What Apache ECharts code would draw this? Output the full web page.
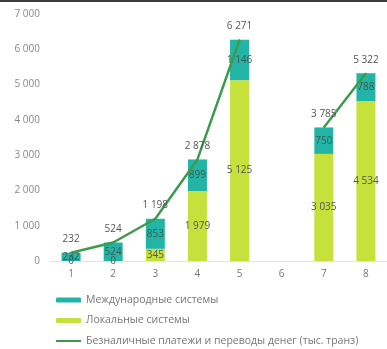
<!DOCTYPE html>
<html>
<head>
<meta charset="utf-8">
<script src="https://cdn.jsdelivr.net/npm/echarts@6/dist/echarts.min.js"></script>
<style>html,body{margin:0;padding:0;background:#fff;}#c{width:387px;height:349px;}</style>
</head>
<body>
<div id="c"></div>
<script>
var categories = ['1','2','3','4','5','6','7','8'];
var internationalSys = [232, 524, 853, 899, 1146, null, 750, 788];
var localSys = [0, 0, 345, 1979, 5125, null, 3035, 4534];
var cashlessTotal = [232, 524, 1198, 2878, 6271, null, 3785, 5322];
var seriesNames = ['Международные системы', 'Локальные системы', 'Безналичные платежи и переводы денег (тыс. транз)'];

function fmt(v) {
  return String(v).replace(/\B(?=(\d{3})+(?!\d))/g, ' ');
}

var chart = echarts.init(document.getElementById('c'), null, {renderer: 'canvas'});
chart.setOption({
  animation: false,
  backgroundColor: '#fff',
  graphic: [{
    type: 'rect', left: 0, top: 0, shape: {width: 387, height: 2},
    style: {fill: '#3d3d3d'}
  }],
  grid: {left: 50, right: -4, top: 14, bottom: 88, containLabel: false},
  legend: {
    orient: 'vertical', left: 55, top: 294.5, padding: 0, height: 60,
    itemWidth: 25, itemHeight: 5, itemGap: 9.5,
    textStyle: {fontSize: 10.5, color: '#777', fontFamily: 'Open Sans', lineHeight: 11},
    data: [
      {name: seriesNames[0]},
      {name: seriesNames[1]},
      {name: seriesNames[2], itemStyle: {color: 'rgba(0,0,0,0)', borderWidth: 0}}
    ]
  },
  xAxis: {
    type: 'category', data: categories,
    axisLine: {lineStyle: {color: '#e3e3e3'}},
    axisTick: {show: false},
    axisLabel: {color: '#777', fontSize: 10, fontFamily: 'Open Sans', margin: 8}
  },
  yAxis: {
    type: 'value', min: 0, max: 7000, interval: 1000,
    splitLine: {show: false},
    axisLine: {show: false}, axisTick: {show: false},
    axisLabel: {color: '#888', fontSize: 10, fontFamily: 'Open Sans', margin: 10, formatter: function (v) { return fmt(v); }}
  },
  series: [
    {
      name: seriesNames[1], type: 'bar', stack: 's', barWidth: 19,
      data: localSys,
      itemStyle: {color: '#c6e03c'},
      label: {show: true, position: 'inside', fontSize: 10, color: '#555', fontFamily: 'Open Sans',
        formatter: function (p) { return p.value == null ? '' : fmt(p.value); }}
    },
    {
      name: seriesNames[0], type: 'bar', stack: 's', barWidth: 19,
      data: internationalSys,
      itemStyle: {color: '#22b5a5'},
      label: {show: true, position: 'inside', fontSize: 10, color: '#3d5a55', fontFamily: 'Open Sans',
        formatter: function (p) { return p.value == null ? '' : fmt(p.value); }}
    },
    {
      name: seriesNames[2], type: 'line', data: cashlessTotal,
      smooth: false, connectNulls: false,
      symbol: 'circle', symbolSize: 1,
      itemStyle: {color: '#3e9a4d'},
      lineStyle: {color: '#3e9a4d', width: 2.5},
      label: {show: true, position: 'top', distance: 8, fontSize: 10, color: '#555', fontFamily: 'Open Sans',
        formatter: function (p) { return p.value == null ? '' : fmt(p.value); }}
    }
  ]
});
</script>
</body>
</html>
